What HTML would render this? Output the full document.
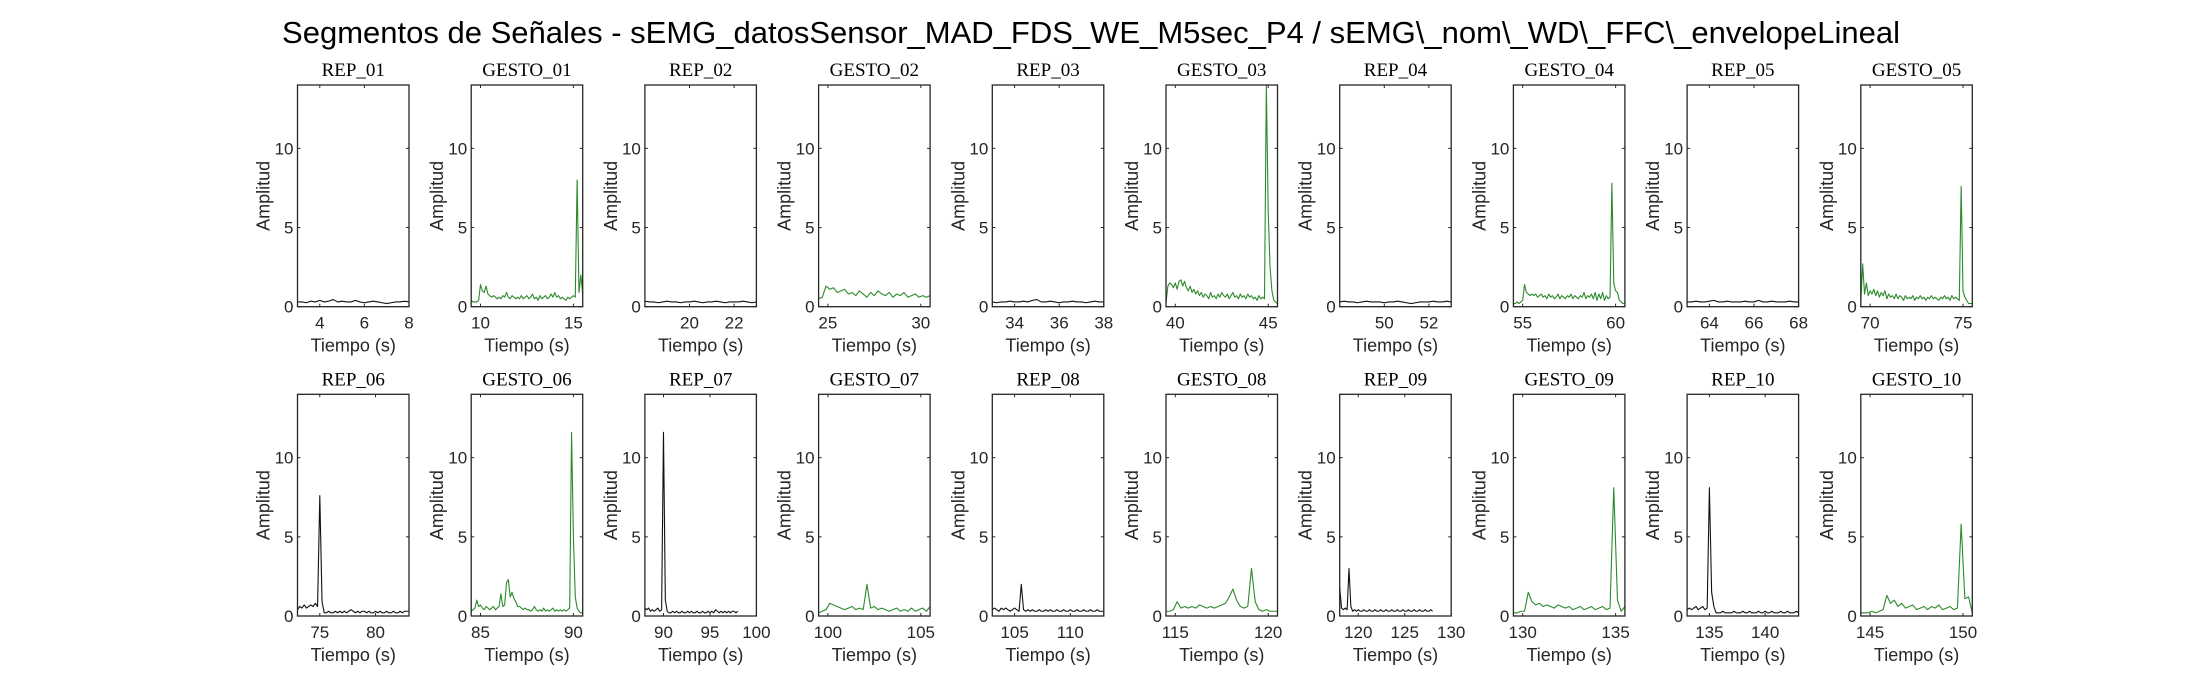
<!DOCTYPE html>
<html><head><meta charset="utf-8"><style>
html,body{margin:0;padding:0;background:#fff;}
svg{display:block;}
</style></head><body>
<svg id="fig" width="2187" height="688" viewBox="0 0 2187 688" xmlns="http://www.w3.org/2000/svg">
<rect x="0" y="0" width="2187" height="688" fill="#fff"/>
<text x="1091" y="43" text-anchor="middle" font-family="Liberation Sans, sans-serif" font-size="31" fill="#000">Segmentos de Señales - sEMG_datosSensor_MAD_FDS_WE_M5sec_P4 / sEMG\_nom\_WD\_FFC\_envelopeLineal</text>
</svg>
<script>
const panelTitles = ["REP_01","GESTO_01","REP_02","GESTO_02","REP_03","GESTO_03","REP_04","GESTO_04","REP_05","GESTO_05",
"REP_06","GESTO_06","REP_07","GESTO_07","REP_08","GESTO_08","REP_09","GESTO_09","REP_10","GESTO_10"];
const xMin = [3,9.5,18,24.5,33,39.5,48,54.5,63,69.5, 73,84.5,88,99.5,103,114.5,118,129.5,133,144.5];
const xMax = [8,15.5,23,30.5,38,45.5,53,60.5,68,75.5, 83,90.5,100,105.5,113,120.5,130,135.5,143,150.5];
const xTicks = [[4,6,8],[10,15],[20,22],[25,30],[34,36,38],[40,45],[50,52],[55,60],[64,66,68],[70,75],
[75,80],[85,90],[90,95,100],[100,105],[105,110],[115,120],[120,125,130],[130,135],[135,140],[145,150]];
const yTicks = [0,5,10];
const yMax = 14;
const tStart = [3,9.5,18,24.5,33,39.5,48,54.5,63,69.5, 73,84.5,88,99.5,103,114.5,118,129.5,133,144.5];
const tStep = [0.2,0.1,0.2,0.2,0.2,0.1,0.2,0.1,0.2,0.1, 0.2,0.1,0.2,0.2,0.2,0.2,0.2,0.2,0.2,0.2];
const s01 = [0.3,0.3,0.25,0.35,0.3,0.4,0.3,0.35,0.45,0.3,0.35,0.3,0.3,0.4,0.3,0.25,0.3,0.35,0.3,0.25,0.2,0.25,0.3,0.3,0.35,0.3];
const s02 = [0.4,0.3,0.3,0.3,0.4,1.4,1.0,0.9,1.3,0.8,0.7,0.6,0.7,0.6,0.5,0.6,0.5,0.7,0.6,0.9,0.6,0.5,0.7,0.6,0.5,0.6,0.5,0.7,0.5,0.6,0.7,0.5,0.6,0.8,0.5,0.6,0.4,0.7,0.5,0.6,0.7,0.5,0.6,0.8,0.6,0.9,0.6,0.7,0.5,0.6,0.5,0.4,0.6,0.5,0.6,0.7,0.6,8.0,0.9,2.0,0.8];
const s03 = [0.35,0.3,0.3,0.25,0.3,0.35,0.3,0.3,0.25,0.3,0.3,0.35,0.3,0.25,0.3,0.3,0.35,0.3,0.25,0.3,0.3,0.3,0.35,0.3,0.25,0.3];
const s04 = [0.5,0.6,1.3,1.1,1.2,0.9,1.0,1.1,0.8,0.9,0.7,1.0,0.8,0.6,0.9,0.7,1.0,0.8,0.7,0.9,0.6,0.8,0.7,0.9,0.6,0.7,0.8,0.6,0.7,0.6,0.7];
const s05 = [0.3,0.25,0.3,0.3,0.35,0.3,0.3,0.35,0.3,0.4,0.45,0.3,0.3,0.35,0.3,0.25,0.3,0.3,0.35,0.3,0.3,0.25,0.3,0.35,0.3,0.3];
const s06 = [0.2,1.3,1.5,1.4,1.2,1.5,1.1,1.6,1.7,1.3,1.6,1.2,1.0,1.3,0.9,1.1,0.8,1.0,0.7,0.9,0.6,0.8,0.7,0.5,0.9,0.6,0.7,0.5,0.8,0.6,0.9,0.7,0.6,0.8,0.5,0.7,0.9,0.6,0.7,0.5,0.8,0.6,0.7,0.5,0.8,0.6,0.7,0.5,0.6,0.4,0.7,0.5,0.6,0.5,14.0,6.0,2.5,1.0,0.4,0.3,0.2];
const s07 = [0.3,0.35,0.3,0.3,0.25,0.3,0.35,0.3,0.3,0.3,0.25,0.3,0.3,0.35,0.3,0.25,0.2,0.25,0.3,0.3,0.3,0.35,0.3,0.3,0.35,0.3];
const s08 = [0.2,0.2,0.3,0.2,0.3,0.4,1.4,0.9,0.8,0.7,0.8,0.7,0.8,0.6,0.7,0.8,0.6,0.7,0.5,0.8,0.6,0.7,0.5,0.6,0.8,0.5,0.7,0.6,0.5,0.7,0.6,0.8,0.5,0.7,0.6,0.5,0.7,0.6,0.9,0.5,0.7,0.6,0.8,0.5,0.9,0.4,0.8,0.5,0.9,0.4,0.7,0.5,0.6,7.8,1.5,1.0,0.9,0.4,0.3,0.2,0.2];
const s09 = [0.3,0.3,0.35,0.3,0.3,0.35,0.4,0.3,0.3,0.35,0.3,0.3,0.3,0.35,0.3,0.3,0.4,0.3,0.3,0.35,0.3,0.3,0.3,0.35,0.3,0.3];
const s10 = [0.3,2.7,0.8,1.5,0.7,1.0,0.8,1.1,0.7,1.0,0.6,0.9,0.7,1.0,0.5,0.8,0.6,0.7,0.5,0.8,0.5,0.7,0.6,0.4,0.7,0.5,0.6,0.5,0.7,0.4,0.6,0.5,0.7,0.5,0.6,0.4,0.6,0.5,0.7,0.5,0.6,0.5,0.4,0.6,0.5,0.7,0.5,0.6,0.4,0.7,0.5,0.6,0.5,0.4,7.6,1.0,0.6,0.4,0.2,0.2,0.2];
const s11 = [0.4,0.6,0.5,0.7,0.5,0.6,0.7,0.6,0.8,0.6,7.6,0.9,0.2,0.2,0.3,0.2,0.2,0.3,0.2,0.3,0.2,0.3,0.2,0.3,0.4,0.3,0.2,0.3,0.2,0.3,0.3,0.2,0.3,0.2,0.2,0.3,0.2,0.3,0.2,0.2,0.3,0.2,0.2,0.3,0.2,0.2,0.3,0.2,0.3,0.3,0.3];
const s12 = [0.3,0.4,0.5,1.0,0.6,0.7,0.5,0.4,0.6,0.5,0.4,0.5,0.6,0.4,0.5,0.6,1.4,0.6,0.7,2.1,2.3,1.2,1.5,1.1,0.9,0.6,0.6,0.5,0.4,0.5,0.4,0.4,0.3,0.4,0.6,0.4,0.3,0.4,0.3,0.5,0.3,0.4,0.3,0.4,0.5,0.3,0.4,0.3,0.4,0.3,0.4,0.3,0.4,0.5,11.6,5.0,1.2,0.5,0.3,0.2,0.2];
const s13 = [0.5,0.4,0.5,0.3,0.4,0.3,0.4,0.5,0.3,0.4,11.6,1.0,0.3,0.2,0.2,0.3,0.2,0.3,0.2,0.2,0.3,0.2,0.2,0.3,0.2,0.3,0.2,0.2,0.3,0.2,0.2,0.3,0.2,0.2,0.3,0.2,0.3,0.2,0.4,0.3,0.2,0.3,0.2,0.3,0.2,0.3,0.2,0.3,0.3,0.2,0.3];
const s14 = [0.2,0.3,0.4,0.8,0.7,0.6,0.5,0.4,0.5,0.6,0.4,0.5,0.4,2.0,0.5,0.6,0.4,0.5,0.4,0.3,0.4,0.5,0.3,0.4,0.3,0.5,0.3,0.4,0.5,0.3,0.6];
const s15 = [0.4,0.5,0.4,0.3,0.5,0.4,0.5,0.4,0.3,0.4,0.5,0.4,0.3,2.0,0.4,0.3,0.4,0.3,0.4,0.3,0.3,0.4,0.3,0.3,0.4,0.3,0.4,0.3,0.3,0.4,0.3,0.3,0.4,0.3,0.3,0.4,0.3,0.3,0.4,0.3,0.3,0.4,0.3,0.3,0.4,0.3,0.3,0.4,0.3,0.3,0.3];
const s16 = [0.3,0.3,0.4,0.9,0.5,0.6,0.5,0.6,0.5,0.7,0.6,0.5,0.6,0.5,0.6,0.7,0.8,1.2,1.7,1.0,0.6,0.5,0.6,3.0,0.9,0.4,0.3,0.4,0.3,0.3,0.3];
const s17 = [1.8,0.5,0.4,0.5,0.4,3.0,0.6,0.3,0.4,0.3,0.4,0.3,0.3,0.4,0.3,0.3,0.4,0.3,0.3,0.4,0.3,0.3,0.4,0.3,0.3,0.4,0.3,0.3,0.4,0.3,0.3,0.4,0.3,0.3,0.4,0.3,0.3,0.4,0.3,0.3,0.4,0.3,0.3,0.4,0.3,0.3,0.4,0.3,0.3,0.4,0.3];
const s18 = [0.2,0.2,0.3,0.3,1.5,0.9,0.7,0.8,0.6,0.7,0.6,0.5,0.7,0.6,0.5,0.6,0.4,0.5,0.6,0.4,0.5,0.6,0.4,0.5,0.6,0.4,0.5,8.1,1.0,0.3,0.6];
const s19 = [0.4,0.5,0.4,0.5,0.6,0.4,0.5,0.6,0.4,0.5,8.1,1.5,0.6,0.2,0.2,0.2,0.3,0.2,0.2,0.2,0.2,0.3,0.2,0.2,0.2,0.3,0.2,0.2,0.3,0.2,0.2,0.2,0.3,0.2,0.2,0.3,0.2,0.2,0.3,0.2,0.2,0.2,0.3,0.2,0.2,0.3,0.2,0.2,0.2,0.3,0.2];
const s20 = [0.2,0.2,0.2,0.3,0.2,0.3,0.4,1.3,0.8,1.0,0.6,0.8,0.5,0.6,0.7,0.4,0.5,0.6,0.4,0.6,0.5,0.7,0.4,0.5,0.6,0.4,0.5,5.8,1.1,1.2,0.2];
const seriesList = [s01,s02,s03,s04,s05,s06,s07,s08,s09,s10,s11,s12,s13,s14,s15,s16,s17,s18,s19,s20];

const NS = "http://www.w3.org/2000/svg";
const fig = document.getElementById('fig');
const colLeft0 = 297.5, colPitch = 173.7, boxW = 111.5;
const rowTop = [85, 394.3], boxH = 221.7;
function mk(tag, attrs, parent){const e=document.createElementNS(NS,tag);for(const k in attrs)e.setAttribute(k,attrs[k]);(parent||fig).appendChild(e);return e;}

panelTitles.forEach((title, p) => {
  const col = p % 10, row = Math.floor(p / 10);
  const L = colLeft0 + col * colPitch, T = rowTop[row], B = T + boxH, R = L + boxW;
  const xs = v => L + (v - xMin[p]) / (xMax[p] - xMin[p]) * boxW;
  const ys = v => B - v / yMax * boxH;
  const g = mk('g', {});
  
  
  const vals = seriesList[p];
  let d = '';
  vals.forEach((v, i) => { const t = tStart[p] + i * tStep[p]; d += (i ? 'L' : 'M') + xs(t).toFixed(2) + ' ' + ys(Math.min(v, yMax)).toFixed(2); });
  const isRep = title.startsWith('REP');
  const line = mk('path', {d: d, fill: 'none', stroke: isRep ? '#111' : '#2b8a2b', 'stroke-width': 1.1, 'stroke-linejoin': 'round'}, g);
  
  
  const box = mk('rect', {x: L, y: T, width: boxW, height: boxH, fill: 'none', stroke: '#262626', 'stroke-width': 1.3}, g);
  
  
  yTicks.forEach(v => {
    const y = ys(v);
    mk('line', {x1: L, x2: L + 3, y1: y, y2: y, stroke: '#262626', 'stroke-width': 1}, g);
    mk('line', {x1: R, x2: R - 3, y1: y, y2: y, stroke: '#262626', 'stroke-width': 1}, g);
    const tl = mk('text', {x: L - 4, y: y + 6, 'text-anchor': 'end', 'font-family': 'Liberation Sans, sans-serif', 'font-size': 17, fill: '#262626'}, g);
    tl.textContent = v;
    
    
  });
  xTicks[p].forEach(v => {
    const x = xs(v);
    mk('line', {x1: x, x2: x, y1: B, y2: B - 3, stroke: '#262626', 'stroke-width': 1}, g);
    mk('line', {x1: x, x2: x, y1: T, y2: T + 3, stroke: '#262626', 'stroke-width': 1}, g);
    const tl = mk('text', {x: x, y: B + 22, 'text-anchor': 'middle', 'font-family': 'Liberation Sans, sans-serif', 'font-size': 17, fill: '#262626'}, g);
    tl.textContent = v;
    
    
  });
  const xl = mk('text', {x: L + boxW / 2, y: B + 45, 'text-anchor': 'middle', 'font-family': 'Liberation Sans, sans-serif', 'font-size': 18, fill: '#262626'}, g);
  xl.textContent = 'Tiempo (s)';
  
  
  const cy = T + boxH / 2;
  const yl = mk('text', {x: L - 28, y: cy, 'text-anchor': 'middle', transform: 'rotate(-90 ' + (L - 28) + ' ' + cy + ')', 'font-family': 'Liberation Sans, sans-serif', 'font-size': 18, fill: '#262626'}, g);
  yl.textContent = 'Amplitud';
  
  
  const tt = mk('text', {x: L + boxW / 2, y: T - 9, 'text-anchor': 'middle', 'font-family': 'Liberation Serif, serif', 'font-size': 19, fill: '#000'}, g);
  tt.textContent = title;
  
  
});
</script>
</body></html>
